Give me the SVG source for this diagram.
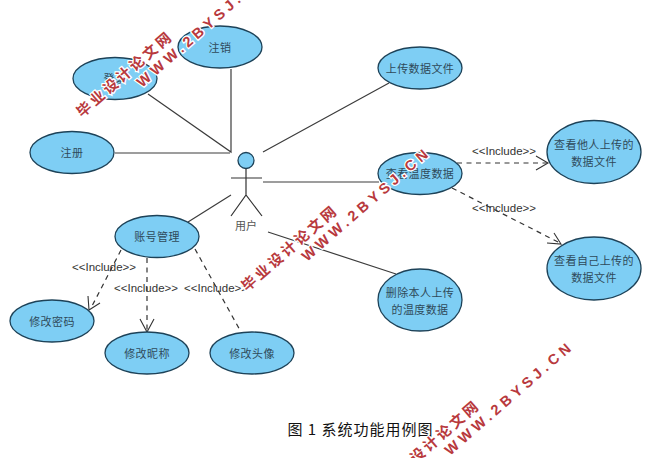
<svg xmlns="http://www.w3.org/2000/svg" width="659" height="458" viewBox="0 0 659 458">
<style>
.n{fill:#7ecef4;stroke:#1d4258;stroke-width:1.3}
.t{font-family:"Noto Sans CJK SC","Noto Sans",sans-serif;font-size:11px;fill:#2f4a5a;text-anchor:middle;letter-spacing:.4px}
.l{fill:none;stroke:#3c3c3c;stroke-width:1.2}
.d{fill:none;stroke:#333;stroke-width:1.2;stroke-dasharray:5 4.5}
.a{fill:none;stroke:#333;stroke-width:1.1}
.i{font-family:"Liberation Sans",Arial,sans-serif;font-size:11.5px;fill:#333;text-anchor:middle}
.w1{font-family:"Noto Sans CJK SC",sans-serif;font-size:14.500px;font-weight:700;fill:#b8393d;stroke:#fff;stroke-width:2.5px;paint-order:stroke;letter-spacing:3px}
.w2{font-family:"Liberation Sans",Arial,sans-serif;font-size:14.500px;font-weight:700;fill:#b8393d;stroke:#fff;stroke-width:2.5px;paint-order:stroke;letter-spacing:4.2px}
</style>
<rect width="659" height="458" fill="#fff"/>
<g id="connectors">
<path class="l" d="M115 153H230M231 69V152L148 94M263 152L389 83M263 182H379M231 195L188 222M268 232L396 274"/>
<path class="d" d="M457 163H547M452 188L560 243M121 250L91 308M147 258V335M195 249L241 332"/>
<path class="a" d="M536 156L548 163L536 170M547 243L561 244L554 233M88 296L89 310L100 303M140 319L147 332L154 319"/>
</g>
<g id="uc-zhuxiao"><ellipse class="n" cx="220" cy="47" rx="42" ry="21"/><text class="t" x="220" y="52">注销</text></g>
<g id="uc-denglu"><ellipse class="n" cx="115" cy="78.500" rx="42" ry="21"/><text class="t" x="115" y="83">登录</text></g>
<g id="uc-zhuce"><ellipse class="n" cx="72" cy="152.500" rx="42" ry="21"/><text class="t" x="72" y="157">注册</text></g>
<g id="uc-upload"><ellipse class="n" cx="420" cy="68" rx="42" ry="21"/><text class="t" x="420" y="73">上传数据文件</text></g>
<g id="uc-view"><ellipse class="n" cx="420" cy="173.500" rx="42" ry="21"/><text class="t" x="420" y="178">查看温度数据</text></g>
<g id="uc-others"><ellipse class="n" cx="594" cy="152" rx="47" ry="31.500"/><text class="t" x="594" y="149">查看他人上传的</text><text class="t" x="594" y="166">数据文件</text></g>
<g id="uc-own"><ellipse class="n" cx="594" cy="268.500" rx="47" ry="31.500"/><text class="t" x="594" y="265">查看自己上传的</text><text class="t" x="594" y="282">数据文件</text></g>
<g id="uc-delete"><ellipse class="n" cx="420" cy="300" rx="42" ry="31"/><text class="t" x="420" y="297">删除本人上传</text><text class="t" x="420" y="314">的温度数据</text></g>
<g id="uc-account"><ellipse class="n" cx="157" cy="236.500" rx="42" ry="21"/><text class="t" x="157" y="241">账号管理</text></g>
<g id="uc-pwd"><ellipse class="n" cx="52" cy="321" rx="42" ry="21"/><text class="t" x="52" y="326">修改密码</text></g>
<g id="uc-nick"><ellipse class="n" cx="147" cy="353" rx="42" ry="21"/><text class="t" x="147" y="358">修改昵称</text></g>
<g id="uc-avatar"><ellipse class="n" cx="252" cy="353" rx="42" ry="21"/><text class="t" x="252" y="358">修改头像</text></g>
<g id="actor">
<circle class="n" cx="246" cy="160.500" r="8"/>
<path fill="none" stroke="#333" stroke-width="1.200" d="M246 168.500V195M231 178H262M231 216L246 195L262 216"/>
<text x="246" y="230" style="font-family:'Noto Sans CJK SC',sans-serif;font-size:11px;fill:#555;text-anchor:middle">用户</text>
</g>
<g id="include-labels">
<text class="i" x="504" y="155">&lt;&lt;Include&gt;&gt;</text>
<text class="i" x="504" y="212">&lt;&lt;Include&gt;&gt;</text>
<text class="i" x="104" y="271">&lt;&lt;Include&gt;&gt;</text>
<text class="i" x="146" y="292">&lt;&lt;Include&gt;&gt;</text>
<text class="i" x="216" y="292">&lt;&lt;Include&gt;&gt;</text>
</g>
<text id="caption" x="360.500" y="435" style="font-family:'Noto Sans CJK SC',sans-serif;font-size:15px;fill:#111;text-anchor:middle;letter-spacing:1px">图 1 系统功能用例图</text>
<g id="watermarks">
<text class="w1" transform="translate(82 118) rotate(-41)">毕业设计论文网</text>
<text class="w2" transform="translate(142 88) rotate(-41)">WWW.2BYSJ.CN</text>
<text class="w1" transform="translate(247 292) rotate(-41)">毕业设计论文网</text>
<text class="w2" transform="translate(307 262) rotate(-41)">WWW.2BYSJ.CN</text>
<text class="w1" transform="translate(389 487) rotate(-41)">毕业设计论文网</text>
<text class="w2" transform="translate(450 456) rotate(-41)">WWW.2BYSJ.CN</text>
</g>
</svg>
